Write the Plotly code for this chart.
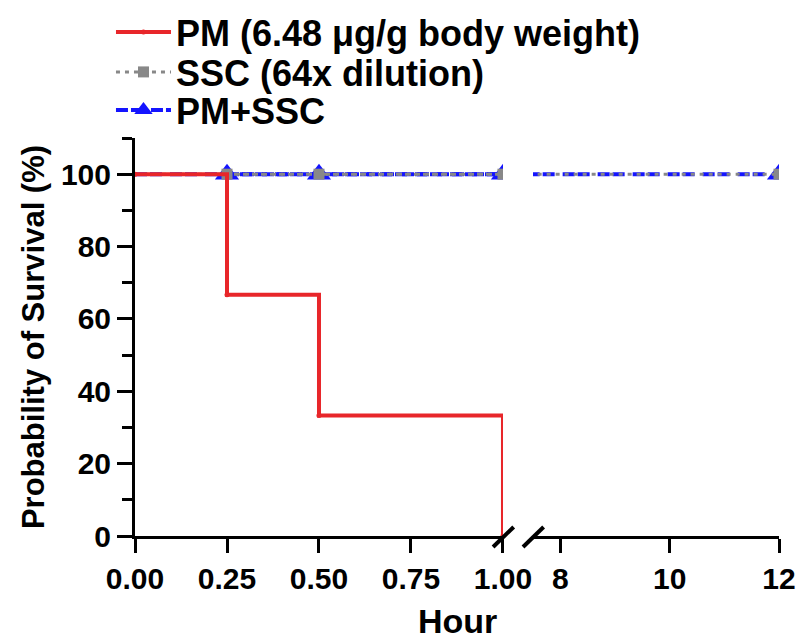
import plotly.graph_objects as go

# ---- data ----
hours_early = [0, 0.25, 0.5, 1.0]
pm_survival = [100, 66.67, 33.33, 0]
ssc_survival = [100, 100, 100, 100]
combo_survival = [100, 100, 100, 100]
censor_early = [0.25, 0.5, 1.0]
censor_early_ssc = [100, 100, 100]
censor_early_combo = [100, 100, 100]
hours_late = [1.0, 12]
ssc_late = [100, 100]
combo_late = [100, 100]
censor_late = [12]
censor_late_ssc = [100]
censor_late_combo = [100]

early_ticks = [0, 0.25, 0.5, 0.75, 1.0]
early_labels = ["0.00", "0.25", "0.50", "0.75", "1.00"]
late_ticks = [8, 10, 12]
y_ticks = [0, 20, 40, 60, 80, 100]
y_minor = [10, 30, 50, 70, 90, 110]

names = ["PM (6.48 μg/g body weight)", "SSC (64x dilution)", "PM+SSC"]

RED = "#e8262a"
GRAY = "#888888"
BLUE = "#1414ff"
FONT = "Liberation Sans, Arial, sans-serif"
BLUE_DASH = "12px,3px,12px,8px"
GRAY_DASH = "4px,5px"

fig = go.Figure()

# PM+SSC (bottom layer)
fig.add_trace(go.Scatter(x=hours_early, y=combo_survival, mode="lines", showlegend=False,
                         xaxis="x", yaxis="y", line=dict(color=BLUE, width=4, dash=BLUE_DASH)))
fig.add_trace(go.Scatter(x=hours_late, y=combo_late, mode="lines", showlegend=False,
                         xaxis="x2", yaxis="y", line=dict(color=BLUE, width=4, dash=BLUE_DASH)))
fig.add_trace(go.Scatter(x=censor_early, y=censor_early_combo, mode="lines+markers", name=names[2],
                         legend="legend3", xaxis="x", yaxis="y",
                         line=dict(color=BLUE, width=4, dash=BLUE_DASH),
                         marker=dict(symbol="triangle-up", size=21, color=BLUE)))
fig.add_trace(go.Scatter(x=censor_late, y=censor_late_combo, mode="markers", showlegend=False,
                         xaxis="x2", yaxis="y",
                         marker=dict(symbol="triangle-up", size=21, color=BLUE)))
# SSC
fig.add_trace(go.Scatter(x=hours_early, y=ssc_survival, mode="lines", showlegend=False,
                         xaxis="x", yaxis="y", line=dict(color=GRAY, width=3, dash=GRAY_DASH)))
fig.add_trace(go.Scatter(x=hours_late, y=ssc_late, mode="lines", showlegend=False,
                         xaxis="x2", yaxis="y", line=dict(color=GRAY, width=3, dash=GRAY_DASH)))
fig.add_trace(go.Scatter(x=censor_early, y=censor_early_ssc, mode="lines+markers", name=names[1],
                         legend="legend2", xaxis="x", yaxis="y",
                         line=dict(color=GRAY, width=3, dash=GRAY_DASH),
                         marker=dict(symbol="square", size=11, color=GRAY)))
fig.add_trace(go.Scatter(x=censor_late, y=censor_late_ssc, mode="markers", showlegend=False,
                         xaxis="x2", yaxis="y",
                         marker=dict(symbol="square", size=11, color=GRAY)))
# PM
fig.add_trace(go.Scatter(x=hours_early, y=pm_survival, mode="lines+markers", name=names[0],
                         legend="legend", xaxis="x", yaxis="y",
                         line=dict(color=RED, width=4, shape="hv"),
                         marker=dict(symbol="circle", size=5, color=RED)))

TICKFONT = dict(family=FONT, size=30, color="black", weight="bold")
axis_common = dict(showline=True, linecolor="black", linewidth=3, ticks="outside",
                   tickwidth=3, tickcolor="black", showgrid=False, zeroline=False,
                   tickfont=TICKFONT)

LEGFONT = dict(family=FONT, size=36, color="black", weight="bold")
def leg(yc):
    return dict(x=-0.0373, y=yc, xanchor="left", yanchor="middle", bgcolor="rgba(0,0,0,0)",
                font=LEGFONT, itemwidth=55)

fig.update_layout(
    width=797, height=644,
    margin=dict(l=135, r=18, t=138, b=108, autoexpand=False),
    paper_bgcolor="white", plot_bgcolor="white",
    font=dict(family=FONT, color="black"),
    xaxis=dict(domain=[0, 0.5714], range=[0, 1.0], tickvals=early_ticks, ticktext=early_labels,
               anchor="y", ticklen=14, **axis_common),
    xaxis2=dict(domain=[0.618, 1.0], range=[7.5, 12], tickvals=late_ticks, anchor="y",
                ticklen=14, **axis_common),
    yaxis=dict(range=[0, 110], tickvals=y_ticks, anchor="x", ticklen=15,
               minor=dict(tickvals=y_minor, ticklen=10, tickwidth=3,
                          tickcolor="black", ticks="outside"),
               title=dict(text="Probability of Survival (%)", standoff=8,
                          font=dict(family=FONT, size=31, color="black", weight="bold")),
               **axis_common),
    legend=leg(1.2663),
    legend2=leg(1.1658),
    legend3=leg(1.0704),
    showlegend=True,
)

fig.add_annotation(text="Hour", xref="paper", yref="paper", x=0.5, y=-0.161, showarrow=False,
                   yanchor="top", font=dict(family=FONT, size=34, color="black", weight="bold"))

# axis break marks
for x0 in [0.556, 0.6025]:
    fig.add_shape(type="line", xref="paper", yref="paper",
                  x0=x0, y0=-0.0276, x1=x0 + 0.032, y1=0.0226,
                  line=dict(color="black", width=4))

fig.write_html("out.html", config={"displayModeBar": False},
               post_script="document.body.style.margin='0px';document.body.style.overflow='hidden';")
